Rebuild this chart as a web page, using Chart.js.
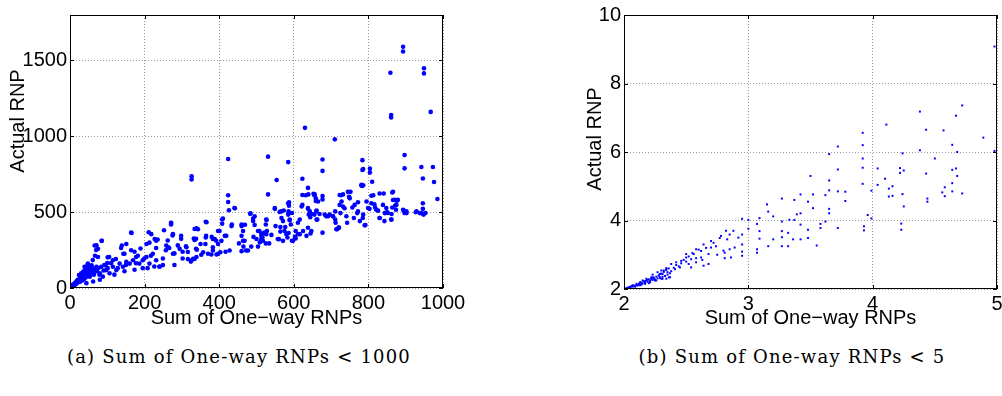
<!DOCTYPE html>
<html>
<head>
<meta charset="utf-8">
<script src="https://cdn.jsdelivr.net/npm/chart.js@4.4.1/dist/chart.umd.min.js"></script>
<style>
    html, body { margin: 0; padding: 0; background: #fff; }
    body { width: 1002px; height: 396px; position: relative; overflow: hidden; }
    canvas { position: absolute; top: 0; }
    #chartA { left: 0; }
    #chartB { left: 560px; }
    .cap {
        position: absolute; top: 346px;
        font-family: 'DejaVu Serif', serif; font-size: 18px; letter-spacing: 1.2px; color: #000;
        white-space: nowrap; transform: translateX(-50%);
    }
</style>
</head>
<body>
<canvas id="chartA" width="480" height="330"></canvas>
<canvas id="chartB" width="442" height="330"></canvas>
<div class="cap" style="left:239px">(a) Sum of One-way RNPs &lt; 1000</div>
<div class="cap" style="left:792px">(b) Sum of One-way RNPs &lt; 5</div>

<script>
// (a) Sum of One-way RNPs < 1000
const leftX = [
    893, 893, 949, 949, 859, 861, 861, 967, 630, 710, 424, 531, 585, 677, 677, 784, 784, 897, 897, 942, 973,
    326, 326, 554, 623, 804, 804, 810, 976, 946, 985, 424, 424, 531, 946, 946,
    66, 75, 75, 85, 105, 115, 139, 151, 164, 143, 211, 218, 205, 227, 231, 252, 271, 271, 276, 258, 276, 263,
    298, 312, 326, 339, 343, 334, 294, 316, 364, 365, 383, 392, 397, 401, 383, 408, 408, 419, 434, 441, 428,
    460, 468, 472, 483, 491, 495, 500, 508, 513, 521, 526, 517, 526, 549, 557, 566, 571, 575, 585, 585, 595,
    595, 580, 589, 605, 611, 616, 623, 632, 638, 640, 647, 655, 655, 665, 677, 683, 692, 705, 711, 716, 720,
    723, 727, 741, 750, 745, 763, 772, 777, 781, 786, 792, 795, 799, 808, 813, 821, 830, 830, 839, 843, 848,
    852, 861, 866, 870, 875, 879, 893, 897, 902, 929, 942, 948, 953,
    4, 8, 13, 17, 21, 26, 30, 35, 39, 44, 48, 53, 57, 62, 66, 71, 80, 39, 48, 53, 24, 30, 88, 97, 106, 115,
    124, 133, 142, 151, 160, 169, 177, 186, 195, 205, 213, 222, 231, 240, 249, 80, 62, 44,
    165, 271, 85, 71, 67, 70, 101, 123, 137, 146, 164, 173, 182, 189, 199, 213, 217, 231, 235, 249, 257, 262,
    266, 275, 280, 289, 298, 302, 311, 316, 334, 338, 338, 334, 128, 101, 79, 92, 110, 47, 56, 39, 29, 21, 12,
    150, 177, 195, 226, 240, 280, 302, 324, 61, 52, 119, 146, 173, 208,
    426, 442, 484, 491, 495, 527, 525, 549, 562, 573, 587, 587, 586, 567, 589, 592, 616, 621, 623, 638, 639,
    638, 653, 659, 660, 663, 644, 638, 625, 611, 605, 634, 645, 366, 339, 332, 364, 380, 388, 397, 406, 410,
    415, 397, 383, 363, 350, 357, 340, 330, 352, 370, 379, 393, 403, 417, 433, 460, 464, 469, 460, 453, 464,
    465, 460, 477, 486, 492, 504, 513, 522, 528, 516, 509, 504, 513, 525, 534, 540, 551, 564, 577, 564, 560,
    571, 586, 583, 603, 598,
    786, 782, 783, 656, 659, 643, 647, 661, 661, 677, 677, 669, 687, 696, 705, 711, 712, 714, 721, 725, 728,
    723, 732, 732, 736, 748, 752, 757, 743, 761, 770, 772, 786, 785, 790, 803, 808, 816, 818, 826, 830, 841,
    844, 850, 862, 864, 864, 866, 872, 874, 876, 862, 895, 902, 927, 938, 947,
    2, 6, 10, 14, 18, 22, 27, 33, 38, 42, 46, 50, 55, 60, 64, 68, 72, 76, 84, 90, 95, 100, 36, 42, 50, 58,
    45, 33, 27, 20, 16, 12, 9, 5, 3
];
const leftY = [
    1591, 1559, 1449, 1415, 1419, 1140, 1124, 1161, 1056, 980, 851, 866, 830, 847, 772, 843, 778, 877, 789, 798, 798,
    737, 716, 712, 720, 787, 761, 701, 699, 722, 587, 612, 567, 617, 559, 522,
    280, 258, 204, 312, 204, 183, 280, 290, 366, 226, 368, 355, 290, 323, 312, 381, 430, 419, 355, 280, 226, 269,
    344, 269, 183, 204, 387, 316, 258, 237, 436, 344, 323, 312, 226, 376, 247, 452, 424, 344, 419, 527, 247,
    419, 312, 247, 490, 441, 473, 323, 376, 344, 366, 355, 312, 452, 527, 323, 505, 441, 376, 559, 484, 495,
    312, 355, 452, 376, 430, 355, 548, 612, 527, 484, 376, 484, 612, 570, 606, 484, 473, 473, 505, 387, 398,
    548, 612, 473, 591, 634, 548, 505, 441, 677, 677, 415, 570, 527, 559, 612, 516, 623, 462, 548, 441, 527,
    495, 452, 634, 581, 548, 581, 516, 495, 505, 505, 495, 484, 495,
    6, 22, 32, 43, 54, 58, 75, 65, 97, 86, 108, 75, 118, 129, 108, 140, 97, 140, 161, 140, 86, 97, 75, 118, 97, 140,
    118, 161, 140, 172, 161, 183, 204, 161, 183, 204, 161, 226, 183, 140, 151, 54, 43, 32,
    363, 428, 311, 281, 213, 251, 202, 191, 264, 226, 249, 239, 213, 260, 195, 299, 213, 264, 320, 195, 249, 313,
    264, 346, 228, 281, 324, 239, 275, 191, 389, 324, 259, 191, 131, 131, 88, 152, 163, 152, 110, 88, 66, 45, 23,
    152, 163, 131, 142, 142, 152, 195, 174, 184, 131, 88, 110, 120, 131,
    513, 526, 492, 458, 415, 449, 419, 522, 501, 511, 565, 543, 505, 462, 447, 419, 451, 537, 613, 660, 617,
    522, 621, 574, 505, 451, 466, 397, 376, 355, 326, 344, 359, 434, 393, 326, 333, 337, 322, 376, 311, 458,
    344, 290, 268, 290, 290, 236, 252, 193, 219, 226, 221, 221, 236, 239, 408, 408, 376, 417, 344, 294, 311,
    273, 243, 247, 273, 337, 376, 359, 359, 376, 333, 301, 273, 322, 294, 294, 350, 408, 402, 402, 372, 322,
    311, 363, 333, 337, 311,
    784, 681, 673, 617, 591, 505, 488, 511, 451, 584, 365, 488, 473, 484, 473, 451, 430, 387, 398, 494, 570,
    613, 617, 537, 526, 602, 634, 531, 430, 462, 494, 565, 484, 462, 413, 522, 608, 552, 531, 510, 462, 623,
    494, 501, 488, 630, 531, 580, 544, 516, 576, 451, 510, 494, 499, 494, 488,
    3, 10, 14, 25, 30, 38, 42, 50, 60, 70, 80, 90, 95, 100, 88, 120, 110, 130, 140, 115, 150, 165, 110, 125, 120, 150,
    100, 80, 68, 50, 36, 20, 16, 8, 5
];

// (b) Sum of One-way RNPs < 5
const rightX = [
    4.98, 4.98, 4.89, 4.72, 4.67, 4.38, 4.11, 4.43, 4.57, 3.92, 3.92, 3.72, 3.65, 4.64, 4.68, 4.38, 4.24, 4.50,
    3.92, 3.92, 4.04, 4.22, 4.22, 4.25, 3.72, 3.50, 4.10, 4.43, 4.64, 4.67, 4.68, 3.92, 4.04, 4.13, 4.16, 4.58,
    4.64, 4.56, 4.64, 4.58, 4.72, 4.13, 4.16, 4.24, 4.44, 4.44, 3.99, 3.65, 3.65, 3.62, 3.78, 3.72, 3.78, 4.25,
    3.96, 3.99, 3.93, 3.93, 4.23, 4.23, 3.65, 3.65, 3.62, 3.58, 3.58, 3.72, 3.55, 3.52, 3.42, 3.37, 3.48, 3.52,
    3.42, 3.39, 3.37, 3.27, 3.15, 3.16, 3.20, 3.27, 3.33, 3.42, 3.48, 3.48, 3.42, 3.36, 3.32, 3.27, 3.27, 3.20,
    3.16, 3.32, 3.27, 3.09, 3.07, 3.00, 2.95, 3.00, 2.95, 3.09, 3.09, 3.07, 3.07, 2.95, 2.95, 2.95, 2.89, 2.85,
    2.82, 2.85, 2.86, 2.81, 2.81, 2.77, 2.74, 2.70, 2.70, 2.68, 2.68, 2.64, 2.62, 2.58, 2.56, 2.54, 2.50, 2.50,
    2.52, 2.54, 2.58, 2.62, 2.64, 2.46, 2.42, 2.45, 2.41, 2.38, 2.34, 2.30, 2.31, 2.27, 2.23, 2.29, 2.22, 2.18,
    2.15, 2.13, 2.10, 2.07, 2.05, 2.02, 2.37, 2.34, 2.26, 2.21, 2.17, 2.13, 2.09, 2.31, 2.24, 2.19, 2.14, 2.11,
    2.06, 2.03, 2.29, 2.35, 2.23,
    2.06, 2.12, 2.17, 2.22, 2.28, 2.32, 2.34, 2.25, 2.20, 2.14, 2.30, 2.36,
    2.01, 2.03, 2.04, 2.05, 2.07, 2.08, 2.09, 2.10, 2.11, 2.12, 2.13, 2.14, 2.15, 2.16, 2.17, 2.18, 2.19, 2.20,
    2.21, 2.22, 2.23, 2.24, 2.25, 2.26, 2.27, 2.28, 2.29, 2.30, 2.31, 2.32, 2.33, 2.34, 2.35, 2.36, 2.37, 2.38,
    2.40, 2.42, 2.44, 2.46, 2.48, 2.50, 2.52, 2.55, 2.58, 2.60, 2.63, 2.66, 2.72, 2.75, 2.78, 2.80, 2.83, 2.88, 2.92
];
const rightY = [
    9.08, 6.03, 6.42, 7.36, 7.06, 7.18, 6.80, 6.65, 6.63, 6.56, 6.20, 6.16, 5.94, 6.21, 6.00, 6.05, 5.96, 5.81,
    5.81, 5.54, 5.52, 5.53, 5.39, 5.46, 5.49, 5.30, 5.22, 5.37, 5.48, 5.52, 5.30, 5.07, 5.04, 4.93, 5.00, 4.97,
    5.09, 4.82, 4.85, 4.71, 4.79, 4.70, 4.72, 4.77, 4.64, 4.55, 4.87, 4.88, 5.17, 4.74, 4.84, 4.85, 4.57, 4.41,
    4.16, 4.06, 3.83, 3.71, 3.91, 3.73, 4.34, 4.21, 3.97, 3.90, 3.78, 3.78, 3.27, 4.76, 4.76, 4.60, 4.55, 4.36,
    4.21, 4.18, 4.02, 4.64, 4.47, 4.26, 4.12, 3.97, 4.02, 3.88, 3.73, 3.49, 3.45, 3.45, 3.64, 3.69, 3.51, 3.45,
    3.25, 3.25, 3.25, 4.07, 3.90, 4.02, 4.05, 3.76, 3.59, 3.69, 3.47, 3.16, 3.06, 3.30, 3.09, 2.97, 3.21, 3.59,
    3.70, 3.16, 2.92, 2.90, 3.06, 3.49, 3.25, 3.40, 3.21, 3.02, 2.73, 3.30, 3.11, 3.16, 3.02, 2.87, 3.02, 2.92,
    2.73, 2.63, 2.78, 2.92, 2.68, 2.82, 2.78, 2.63, 2.58, 2.73, 2.58, 2.54, 2.44, 2.49, 2.42, 2.34, 2.34, 2.30,
    2.25, 2.20, 2.15, 2.11, 2.06, 2.02, 2.34, 2.30, 2.25, 2.20, 2.15, 2.11, 2.08, 2.30, 2.30, 2.27, 2.17, 2.12,
    2.08, 2.04, 2.44, 2.49, 2.34,
    2.08, 2.16, 2.23, 2.30, 2.39, 2.54, 2.61, 2.25, 2.17, 2.13, 2.30, 2.34,
    2.01, 2.03, 2.05, 2.04, 2.07, 2.10, 2.07, 2.12, 2.10, 2.14, 2.13, 2.19, 2.16, 2.22, 2.18, 2.25, 2.21, 2.28,
    2.24, 2.30, 2.26, 2.33, 2.28, 2.36, 2.31, 2.40, 2.32, 2.45, 2.36, 2.50, 2.38, 2.55, 2.42, 2.60, 2.46, 2.52,
    2.62, 2.70, 2.66, 2.75, 2.85, 2.80, 2.95, 3.05, 2.90, 3.15, 2.85, 3.20, 3.35, 3.00, 3.55, 3.12, 3.45, 3.70, 3.50
];

const leftXTicks = [0, 200, 400, 600, 800, 1000];
const leftYTicks = [0, 500, 1000, 1500];
const rightXTicks = [2, 3, 4, 5];
const rightYTicks = [2, 4, 6, 8, 10];

const xTitle = 'Sum of One\u2212way RNPs';
const yTitle = 'Actual RNP';
const FONT = { family: '"Liberation Sans", Arial, sans-serif', size: 20 };

// box, inward tick marks and the rotated y label, MATLAB style
const matlabFrame = {
    id: 'matlabFrame',
    afterDraw(chart, args, o) {
        const { ctx, chartArea: a, scales: { x, y } } = chart;
        ctx.save();
        ctx.strokeStyle = '#000';
        ctx.lineWidth = 1;
        ctx.beginPath();
        x.ticks.forEach(t => {
            const px = Math.round(x.getPixelForValue(t.value)) + 0.5;
            ctx.moveTo(px, a.bottom); ctx.lineTo(px, a.bottom - o.tick);
            ctx.moveTo(px, a.top); ctx.lineTo(px, a.top + o.tick);
        });
        y.ticks.forEach(t => {
            const py = Math.round(y.getPixelForValue(t.value)) + 0.5;
            ctx.moveTo(a.left, py); ctx.lineTo(a.left + o.tick, py);
            ctx.moveTo(a.right, py); ctx.lineTo(a.right - o.tick, py);
        });
        ctx.stroke();
        ctx.strokeRect(a.left + 0.5, a.top + 0.5, a.right - a.left - 1, a.bottom - a.top - 1);

        ctx.translate(o.titleX, o.titleY);
        ctx.rotate(-Math.PI / 2);
        ctx.font = FONT.size + 'px ' + FONT.family;
        ctx.fillStyle = '#000';
        ctx.textAlign = 'center';
        ctx.textBaseline = 'middle';
        ctx.fillText(yTitle, 0, 0);
        ctx.restore();
    }
};

function makeScatter(id, xs, ys, cfg) {
    const pts = xs.map((v, i) => ({ x: v, y: ys[i] }));
    return new Chart(document.getElementById(id), {
        type: 'scatter',
        data: {
            datasets: [{
                data: pts,
                backgroundColor: '#0000ff',
                borderWidth: 0,
                pointStyle: cfg.style,
                pointRadius: cfg.radius,
                pointHoverRadius: cfg.radius
            }]
        },
        options: {
            responsive: false,
            animation: false,
            events: [],
            layout: { padding: cfg.padding },
            plugins: {
                legend: { display: false },
                tooltip: { enabled: false },
                matlabFrame: { tick: 4, titleX: cfg.titleX, titleY: cfg.titleY }
            },
            scales: {
                x: {
                    type: 'linear',
                    min: cfg.xMin, max: cfg.xMax,
                    afterBuildTicks: s => { s.ticks = cfg.xTicks.map(v => ({ value: v })); },
                    afterFit: s => { s.height = cfg.xHeight; s.paddingLeft = 0; s.paddingRight = 0; },
                    grid: { color: '#9a9a9a', drawTicks: false },
                    border: { display: false, dash: [1, 2] },
                    ticks: { font: FONT, color: '#000', padding: 3, maxRotation: 0, autoSkip: false, callback: v => String(v) },
                    title: { display: true, text: xTitle, font: FONT, color: '#000', padding: 0 }
                },
                y: {
                    type: 'linear',
                    min: cfg.yMin, max: cfg.yMax,
                    afterBuildTicks: s => { s.ticks = cfg.yTicks.map(v => ({ value: v })); },
                    afterFit: s => { s.width = cfg.yWidth; },
                    grid: { color: '#9a9a9a', drawTicks: false },
                    border: { display: false, dash: [1, 2] },
                    ticks: { font: FONT, color: '#000', padding: 3, autoSkip: false, callback: v => String(v) }
                }
            }
        },
        plugins: [matlabFrame]
    });
}

makeScatter('chartA', leftX, leftY, {
    style: 'circle', radius: 2.3,
    xMin: 0, xMax: 1000, yMin: 0, yMax: 1800,
    xTicks: leftXTicks, yTicks: leftYTicks,
    padding: { top: 9, right: 37, left: 0, bottom: 0 },
    xHeight: 42, yWidth: 70,
    titleX: 18, titleY: 121
});

makeScatter('chartB', rightX, rightY, {
    style: 'rect', radius: 1.4,
    xMin: 2, xMax: 5, yMin: 2, yMax: 10,
    xTicks: rightXTicks, yTicks: rightYTicks,
    padding: { top: 10, right: 5, left: 0, bottom: 0 },
    xHeight: 41, yWidth: 64,
    titleX: 35, titleY: 139
});
</script>
</body>
</html>
